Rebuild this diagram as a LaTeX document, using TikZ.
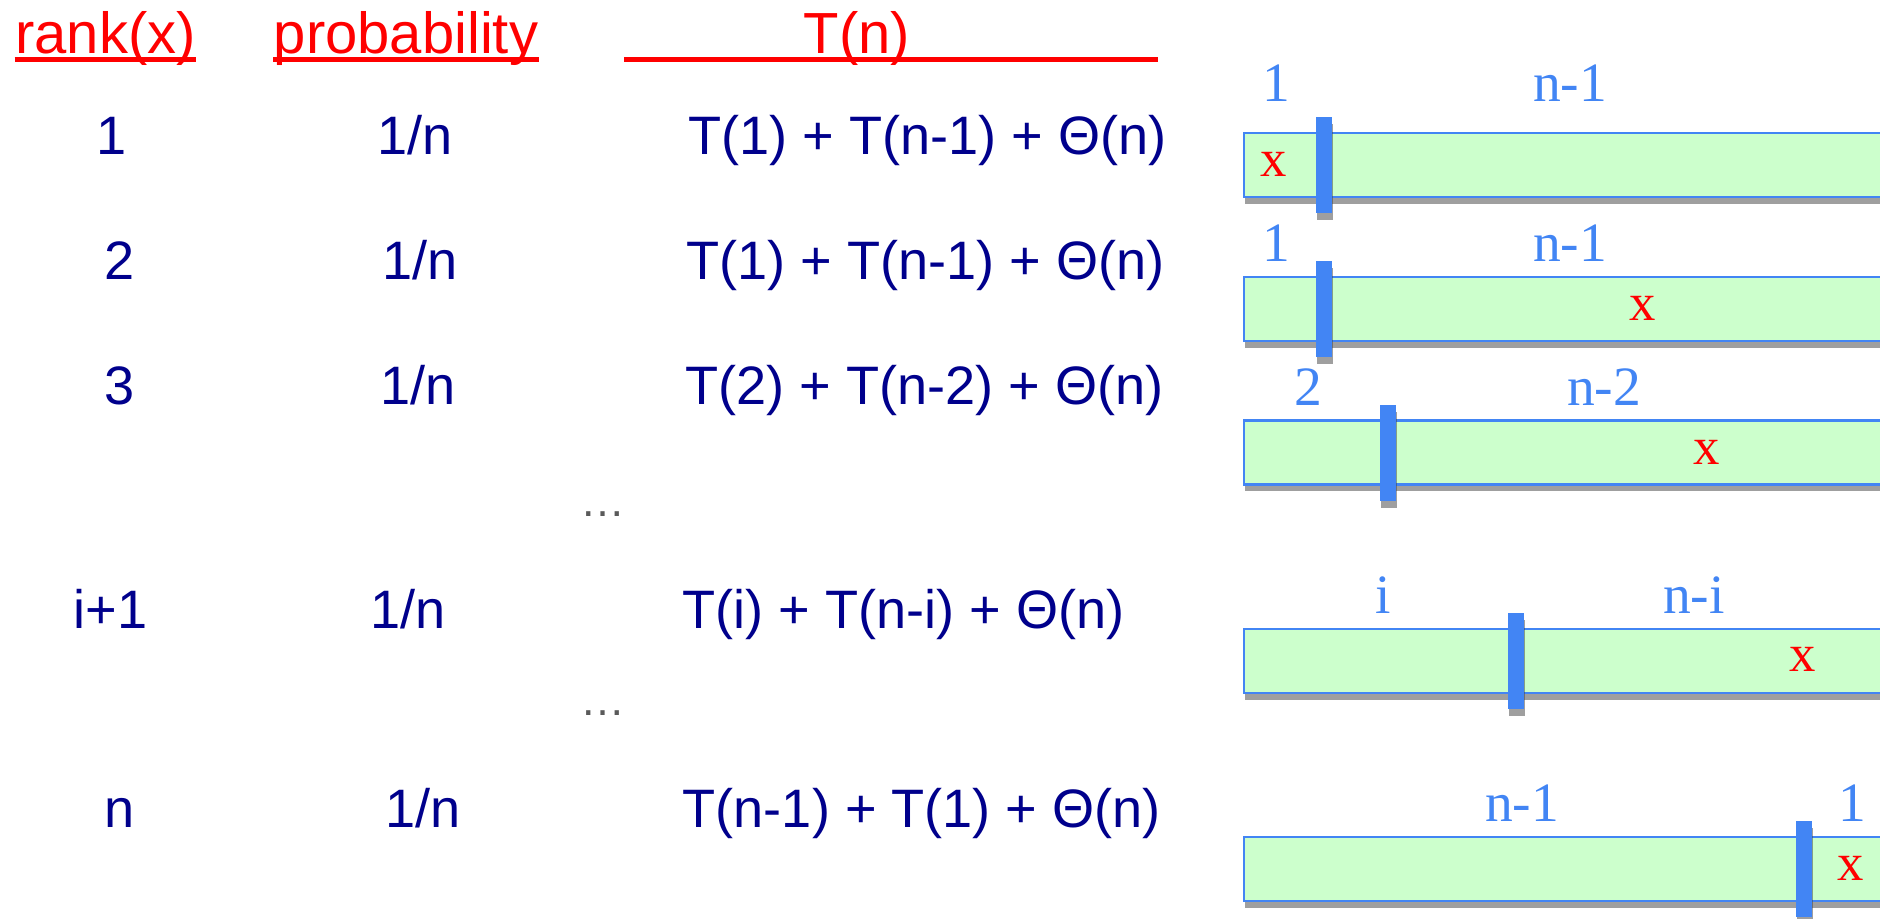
\documentclass[tikz,border=0pt]{standalone}
\usepackage{fontspec}
\setmainfont{Liberation Serif}
\setsansfont{Liberation Sans}
\usepackage{xcolor}
\usepackage{tikz}
\usetikzlibrary{shadows}

\definecolor{navytext}{RGB}{0,0,140}
\definecolor{barblue}{RGB}{66,133,244}
\definecolor{barfill}{RGB}{204,255,204}
\definecolor{dotgray}{RGB}{90,90,90}

\begin{document}
\begin{tikzpicture}[
    x=1cm, y=-1cm,
    head/.style={text=red, font=\sffamily\fontsize{16.5}{18}\selectfont, inner sep=0pt, anchor=base},
    cell/.style={text=navytext, font=\sffamily\fontsize{15.4}{17}\selectfont, inner sep=0pt, anchor=base},
    recur/.style={cell, anchor=base west},
    gap/.style={text=dotgray, font=\sffamily\fontsize{12.8}{14}\selectfont, inner sep=0pt, anchor=base},
    size/.style={text=barblue, font=\fontsize{15.8}{17}\selectfont, inner sep=0pt, anchor=base},
    pick/.style={text=red, font=\fontsize{15}{16}\selectfont, inner sep=0pt, anchor=base},
    underline/.style={red, line width=1.45pt},
    array/.style={draw=barblue, line width=0.6pt, fill=barfill, drop shadow={shadow xshift=0.4pt, shadow yshift=-1.9pt, opacity=0.5, fill=black!75}},
    pivot/.style={fill=barblue, drop shadow={shadow xshift=0.4pt, shadow yshift=-1.9pt, opacity=0.5, fill=black!75}}
]
    \clip (0,0) rectangle (18.80,9.18);

    % ================= HEADERS =================
    \node[head] (hrank) at (1.055,0.533) {rank(x)};
    \node[head] (hprob) at (4.06,0.533) {probability};
    \node[head] (htime) at (8.57,0.533) {T(n)};
    \draw[underline] ([yshift=-1.7pt]hrank.base west) -- ([yshift=-1.7pt]hrank.base east);
    \draw[underline] ([yshift=-1.7pt]hprob.base west) -- ([yshift=-1.7pt]hprob.base east);
    \draw[underline] (6.24,0.595) -- (11.575,0.595);

    % ================= RANK / PROBABILITY / RECURRENCE =================
    \node[cell] (r1) at (1.12,1.54) {1};
    \node[cell] (p1) at (4.15,1.54) {1/n};
    \node[recur] (t1) at (6.88,1.54) {T(1) + T(n-1) + Θ(n)};

    \node[cell] (r2) at (1.20,2.79) {2};
    \node[cell] (p2) at (4.20,2.79) {1/n};
    \node[recur] (t2) at (6.86,2.79) {T(1) + T(n-1) + Θ(n)};

    \node[cell] (r3) at (1.20,4.04) {3};
    \node[cell] (p3) at (4.18,4.04) {1/n};
    \node[recur] (t3) at (6.85,4.04) {T(2) + T(n-2) + Θ(n)};

    \node[gap] (gap1) at (6.03,5.16) {…};

    \node[cell] (ri) at (1.105,6.28) {i+1};
    \node[cell] (pi) at (4.08,6.28) {1/n};
    \node[recur] (ti) at (6.82,6.28) {T(i) + T(n-i) + Θ(n)};

    \node[gap] (gap2) at (6.03,7.15) {…};

    \node[cell] (rn) at (1.20,8.27) {n};
    \node[cell] (pn) at (4.23,8.27) {1/n};
    \node[recur] (tn) at (6.82,8.27) {T(n-1) + T(1) + Θ(n)};

    % ================= PARTITIONED ARRAYS =================
    % rank 1
    \draw[array] (12.44,1.33) rectangle (19.2,1.97);
    \fill[pivot] (13.16,1.17) rectangle (13.32,2.13);
    \node[size] (a1l) at (12.76,1.017) {1};
    \node[size] (a1r) at (15.70,1.017) {n-1};
    \node[pick] (x1) at (12.74,1.767) {x};

    % rank 2
    \draw[array] (12.44,2.77) rectangle (19.2,3.41);
    \fill[pivot] (13.16,2.61) rectangle (13.32,3.57);
    \node[size] (a2l) at (12.76,2.61) {1};
    \node[size] (a2r) at (15.70,2.61) {n-1};
    \node[pick] (x2) at (16.43,3.20) {x};

    % rank 3
    \draw[array] (12.44,4.205) rectangle (19.2,4.845);
    \fill[pivot] (13.80,4.05) rectangle (13.96,5.01);
    \node[size] (a3l) at (13.08,4.05) {2};
    \node[size] (a3r) at (16.04,4.05) {n-2};
    \node[pick] (x3) at (17.07,4.64) {x};

    % rank i+1
    \draw[array] (12.44,6.29) rectangle (19.2,6.93);
    \fill[pivot] (15.08,6.13) rectangle (15.24,7.09);
    \node[size] (ail) at (13.83,6.13) {i};
    \node[size] (air) at (16.94,6.13) {n-i};
    \node[pick] (xi) at (18.03,6.717) {x};

    % rank n
    \draw[array] (12.44,8.37) rectangle (19.2,9.01);
    \fill[pivot] (17.96,8.21) rectangle (18.12,9.17);
    \node[size] (anl) at (15.22,8.21) {n-1};
    \node[size] (anr) at (18.52,8.21) {1};
    \node[pick] (xn) at (18.51,8.80) {x};

\end{tikzpicture}
\end{document}
